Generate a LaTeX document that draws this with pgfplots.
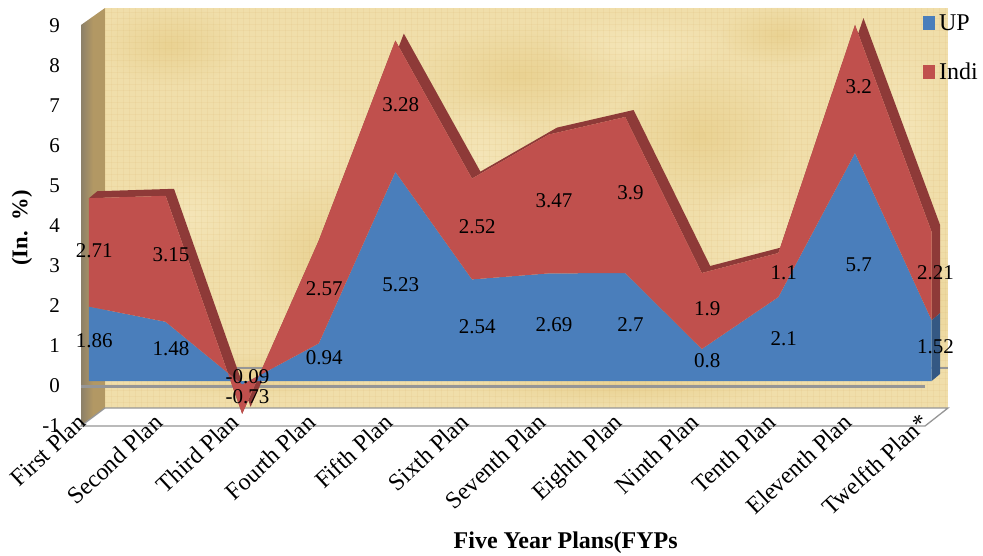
\documentclass[border=0pt]{standalone}
\usepackage{pgfplots}
\usepackage{pgfplotstable}
\usepackage{fontspec}
\setmainfont{Liberation Serif}
\pgfplotsset{compat=1.18}
\usetikzlibrary{fadings}
\tikzfading[name=blob, inner color=transparent!0, outer color=transparent!100]

\definecolor{upblue}{RGB}{74,126,187}
\definecolor{upside}{RGB}{52,88,131}
\definecolor{indired}{RGB}{192,80,77}
\definecolor{indiside}{RGB}{142,58,56}
\definecolor{parch}{RGB}{240,222,170}
\definecolor{parchdark}{RGB}{226,196,118}
\definecolor{parchlight}{RGB}{250,238,200}
\definecolor{wallleft}{RGB}{140,128,104}
\definecolor{wallside}{RGB}{178,152,100}
\definecolor{edgegray}{RGB}{150,150,150}

\newcommand{\txt}{\fontsize{21}{21}\selectfont}
\newcommand{\bigtxt}{\fontsize{24}{24}\selectfont}

\pgfplotstableread{
x up indi
0 1.86 2.71
1 1.48 3.15
2 -0.09 -0.73
3 0.94 2.57
4 5.23 3.28
5 2.54 2.52
6 2.69 3.47
7 2.7 3.9
8 0.8 1.9
9 2.1 1.1
10 5.7 3.2
11 1.52 2.21
}\plans

\begin{document}
\begin{tikzpicture}
\path[use as bounding box] (0,0) rectangle (983pt,555pt);
% parchment behind the plot
\fill[parch] (105pt,147pt) rectangle (948pt,547pt);
\begin{scope}
\clip (105pt,147pt) rectangle (948pt,547pt);
\foreach \cx/\cy/\rx/\ry/\col in {
  170/510/70/40/parchdark, 300/420/90/60/parchlight, 520/480/110/50/parchdark,
  330/300/80/70/parchdark, 480/400/60/60/parchlight, 640/510/100/35/parchlight,
  700/420/90/70/parchdark, 780/520/60/30/parchdark, 900/430/50/90/parchlight,
  760/320/70/60/parchlight, 250/180/120/22/parchdark, 620/170/160/20/parchdark,
  190/340/60/50/parchlight, 920/250/40/70/parchdark}
  \fill[\col,path fading=blob,fill opacity=0.45] (\cx pt,\cy pt) ellipse ({\rx pt} and {\ry pt});
\foreach \gx in {105,111,...,948}
  \draw[parchdark!70!brown,opacity=0.11,line width=0.7pt] (\gx pt,147pt) -- (\gx pt,547pt);
\foreach \gy in {147,153,...,547}
  \draw[parchdark!70!brown,opacity=0.11,line width=0.7pt] (105pt,\gy pt) -- (948pt,\gy pt);
\end{scope}
\begin{axis}[
  at={(81pt,129pt)}, anchor=south west,
  scale only axis, width=867pt, height=418pt,
  xmin=-0.104, xmax=11.214, ymin=-1.125, ymax=9.325,
  clip=false, axis on top,
  axis line style={draw=none},
  major tick length=0pt,
  xtick={0,...,11},
  xticklabels={First Plan,Second Plan,Third Plan,Fourth Plan,Fifth Plan,Sixth Plan,Seventh Plan,Eighth Plan,Ninth Plan,Tenth Plan,Eleventh Plan,Twelfth Plan*},
  xticklabel style={rotate=43,anchor=north east,font=\fontsize{24}{24}\selectfont,inner sep=0pt,xshift=0pt,yshift=19pt},
  ytick={-1,0,...,9},
  yticklabels={-1,0,1,2,3,4,5,6,7,8,9},
  yticklabel style={font=\txt,inner sep=0pt,xshift=-21pt,yshift=-5pt,anchor=east},
  xlabel={Five Year Plans(FYPs},
  xlabel style={font=\bigtxt\bfseries,at={(axis description cs:0.559,-0.279)},anchor=center,inner sep=0pt},
  ylabel={(In.\ \ \%)},
  ylabel style={font=\fontsize{22.5}{23}\selectfont\bfseries,at={(axis description cs:-0.068,0.474)},anchor=center,rotate=0,inner sep=0pt},
  legend style={at={(axis description cs:0.971,0.99)},anchor=north west,draw=none,fill=none,font=\fontsize{24}{24}\selectfont,inner sep=0pt,row sep=27pt,column sep=2pt},
  legend cell align=left,
  legend image code/.code={\fill[#1] (0pt,-7pt) rectangle (12pt,7pt);},
]
% side wall and floor
\addplot[forget plot,draw=none,left color=wallleft,right color=wallside,middle color=wallside] coordinates {(-0.104,-1.125) (-0.104,8.9) (0.209,9.325) (0.209,-0.675)} -- cycle;
\addplot[forget plot,draw=none,fill=white] coordinates {(-0.104,-1.125) (0.209,-0.675) (11.214,-0.675) (10.914,-1.125)} -- cycle;
\addplot[forget plot,edgegray,line width=1.3pt] coordinates {(0.209,-0.675) (11.214,-0.675) (10.914,-1.125) (-0.104,-1.125) (0.209,-0.675)};
\addplot[forget plot,edgegray,line width=3pt] coordinates {(-0.104,-0.125) (10.914,-0.125)};
\addplot[forget plot,edgegray,line width=1.6pt] coordinates {(0.209,0.325) (11.214,0.325)};
% depth of the two areas
\addplot[forget plot,draw=none,fill=indiside] coordinates {
  (0,4.57) (1,4.63) (2,-0.82) (3,3.51) (4,8.51) (5,5.06) (6,6.16) (7,6.6) (8,2.7) (9,3.2) (10,8.9) (11,3.73)
  (11,1.52) (11.11,1.695) (11.11,3.905)
  (10.11,9.075) (9.11,3.375) (8.11,2.875) (7.11,6.775) (6.11,6.335) (5.11,5.235) (4.11,8.685) (3.11,3.685) (2.11,-0.645) (1.11,4.805) (0.11,4.745)} -- cycle;
\addplot[forget plot,draw=none,fill=upside] coordinates {(11,0) (11,1.52) (11.11,1.695) (11.11,0.175)} -- cycle;
% stacked areas
\addplot[stack plots=y,draw=none,fill=upblue] table[x=x,y=up] {\plans} \closedcycle;
\addplot[stack plots=y,draw=none,fill=indired] table[x=x,y=indi] {\plans} \closedcycle;
\legend{UP,Indi}
% value labels
\addplot[forget plot,draw=none,mark=none,nodes near coords,point meta=explicit symbolic,
  nodes near coords style={font=\txt,anchor=center,inner sep=0pt,text=black}]
  table[x=x,y=y,meta=lab] {
x y lab
0.07 1.0 1.86
1.07 0.82 1.48
2.07 0.1 -0.09
3.07 0.58 0.94
4.07 2.4 5.23
5.07 1.35 2.54
6.07 1.4 2.69
7.07 1.4 2.7
8.07 0.5 0.8
9.07 1.07 2.1
10.05 2.9 5.7
11.05 0.85 1.52
0.07 3.27 2.71
1.07 3.15 3.15
2.07 -0.4 -0.73
3.07 2.3 2.57
4.07 6.9 3.28
5.07 3.87 2.52
6.07 4.5 3.47
7.07 4.7 3.9
8.07 1.8 1.9
9.07 2.7 1.1
10.05 7.35 3.2
11.05 2.7 2.21
};
\end{axis}
\end{tikzpicture}
\end{document}
